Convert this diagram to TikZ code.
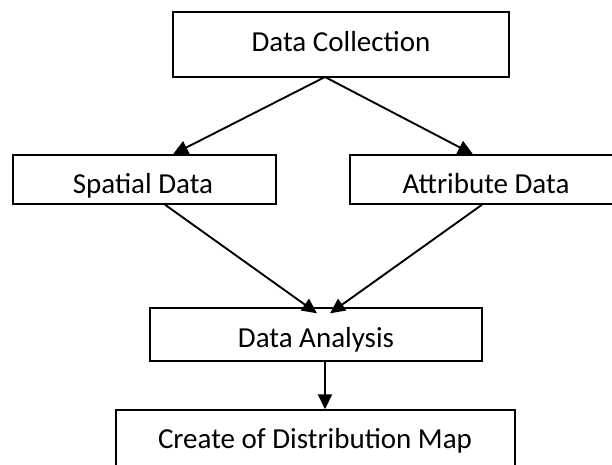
\documentclass[tikz,border=0pt]{standalone}
\usepackage{fontspec}
\setmainfont{Carlito}
\usetikzlibrary{arrows.meta}
\begin{document}
\begin{tikzpicture}[x=1pt,y=-1pt,
  box/.style={draw, line width=1.4pt, rectangle, inner sep=0pt},
  lbl/.style={anchor=base, inner sep=0pt, font=\fontsize{29}{35}\selectfont},
  flow/.style={line width=1.9pt, -{Triangle[length=15pt,width=14pt]}}]
  \useasboundingbox (0,0) rectangle (612,465);
  \clip (0,0) rectangle (612,465);
  % boxes
  \node[box, minimum width=336pt, minimum height=65pt] (dc) at (341,44.5) {};
  \node[box, minimum width=263pt, minimum height=49pt] (sd) at (144.5,179.5) {};
  \node[box, minimum width=272pt, minimum height=49pt] (ad) at (486,179.5) {};
  \node[box, minimum width=332pt, minimum height=53pt] (da) at (316,334.5) {};
  \node[box, minimum width=399pt, minimum height=90pt] (cm) at (315.5,455) {};
  % labels
  \node[lbl] (tdc) at (341,52) {Data Collection};
  \begin{scope}
    \clip (sd.north west) rectangle ([yshift=-11pt]sd.south east);
    \node[lbl] (tsd) at (143,193) {Spatial Data};
  \end{scope}
  \node[lbl] (tad) at (486,193) {Attribute Data};
  \node[lbl] (tda) at (316,347) {Data Analysis};
  \node[lbl] (tcm) at (315,448) {Create of Distribution Map};
  % connectors
  \coordinate (split) at (325,77);
  \draw[flow] (split) -- ([xshift=28.5pt]sd.north);
  \draw[flow] (split) -- ([xshift=-13pt]ad.north);
  \coordinate (join1) at ([xshift=1pt,yshift=-6pt]da.north);
  \coordinate (join2) at ([xshift=14pt,yshift=-6pt]da.north);
  \draw[flow] ([xshift=20.5pt]sd.south) -- (join1);
  \draw[flow] ([xshift=-4pt]ad.south) -- (join2);
  \draw[flow] (da.south -| split) -- (cm.north -| split);
\end{tikzpicture}
\end{document}
